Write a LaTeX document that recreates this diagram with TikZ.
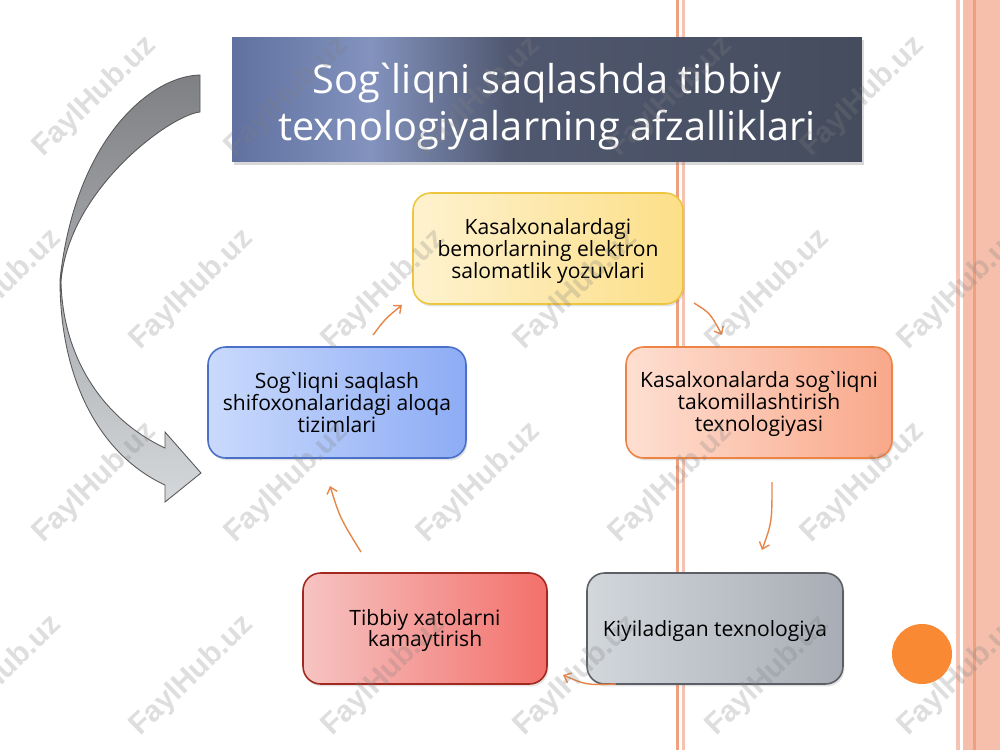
\documentclass[tikz,border=0pt]{standalone}
\usepackage{fontspec}
\newfontfamily\of{Open Sans}
\newfontfamily\wm{Liberation Sans}
\usetikzlibrary{arrows.meta,shadows}
\newcommand\grv{\kern-0.14em`\kern-0.14em}
\definecolor{tA}{HTML}{6070A0}
\definecolor{tB}{HTML}{8393BE}
\definecolor{tC}{HTML}{505870}
\definecolor{tD}{HTML}{454C5D}
\definecolor{stripeO}{HTML}{EFA07F}
\definecolor{stripeP}{HTML}{F6C3B2}
\definecolor{bandP}{HTML}{F5BFAB}
\definecolor{arrowC}{HTML}{E8864A}
\definecolor{circC}{HTML}{F98A33}
\definecolor{yL}{HTML}{FEF2CF}\definecolor{yR}{HTML}{FCDF88}\definecolor{yB}{HTML}{EEC53E}
\definecolor{oL}{HTML}{FEDFD2}\definecolor{oR}{HTML}{F9A88A}\definecolor{oB}{HTML}{EE8444}
\definecolor{gL}{HTML}{D3D7DC}\definecolor{gR}{HTML}{A8ADB5}\definecolor{gB}{HTML}{5C6066}
\definecolor{rL}{HTML}{F6C4C2}\definecolor{rR}{HTML}{F3706B}\definecolor{rB}{HTML}{A2291F}
\definecolor{bL}{HTML}{CADAFC}\definecolor{bR}{HTML}{8DACF5}\definecolor{bB}{HTML}{4A70C8}
\definecolor{arT}{HTML}{7E8084}\definecolor{arB}{HTML}{D5D8DB}
\pgfdeclarehorizontalshading{titleshade}{100bp}{color(0bp)=(tA); color(25bp)=(tA); color(36bp)=(tB); color(47bp)=(tC); color(75bp)=(tD); color(100bp)=(tD)}
\tikzset{
  box/.style={rounded corners=10pt, draw, line width=0.9pt, inner sep=0pt, align=center,
    text=black, minimum height=2.22cm,
    drop shadow={opacity=0.22, shadow xshift=0.8pt, shadow yshift=-1.4pt}},
  boxtext/.style={align=center, inner sep=0pt, text=black, font=\of\fontsize{12}{12.3}\selectfont},
  titlebox/.style={shading=titleshade, inner sep=0pt, minimum width=12.6cm, minimum height=2.5cm,
    drop shadow={opacity=0.3, shadow xshift=1pt, shadow yshift=-1.5pt}},
  titletext/.style={align=center, inner sep=0pt, text=white, font=\of\fontsize{22.6}{26.7}\selectfont},
  conn/.style={draw=arrowC, line width=0.8pt, -{Straight Barb[length=3.5pt,width=6pt]}},
  wmk/.style={rotate=44, font=\wm\bfseries\fontsize{17}{17}\selectfont, text=gray, text opacity=0.26},
}
\begin{document}
\begin{tikzpicture}[x=0.02cm, y=-0.02cm]
\useasboundingbox (0,0) rectangle (1000,750);
\fill[white] (0,0) rectangle (1000,750);
% stripes
\fill[stripeO] (676,0) rectangle (678.5,750);
\fill[stripeP] (681.5,0) rectangle (684.5,750);
\fill[stripeP] (956,0) rectangle (960,750);
\fill[bandP] (963,0) rectangle (1000,750);
\fill[stripeO] (973,0) rectangle (975.5,750);
% big curved arrow
\draw[draw=black!65, line width=0.5pt, top color=arT, bottom color=arB]
  (200,75) .. controls (150,76) and (75,140) .. (60,280)
  .. controls (60,380) and (100,455) .. (165,485)
  -- (165,502) -- (201,473) -- (165,432) -- (165,448)
  .. controls (105,420) and (63,360) .. (61,282)
  .. controls (68,190) and (170,115) .. (200,112) -- cycle;
% title
\node[titlebox] (title) at (547,99.5) {};
\node[titletext] (titletxt) at (547,107) {Sog\grv liqni saqlashda tibbiy\\texnologiyalarning afzalliklari};
% boxes
\node[box, draw=yB, left color=yL, right color=yR, minimum width=5.4cm] (yellow) at (548,248.5) {};
\node[boxtext] (yellowtxt) at (548,251) {Kasalxonalardagi\\bemorlarning elektron\\salomatlik yozuvlari};
\node[box, draw=oB, left color=oL, right color=oR, minimum width=5.32cm] (orange) at (759,402.5) {};
\node[boxtext] (orangetxt) at (759,404) {Kasalxonalarda sog\grv liqni\\takomillashtirish\\texnologiyasi};
\node[box, draw=gB, left color=gL, right color=gR, minimum width=5.12cm] (grey) at (715,628.5) {};
\node[boxtext] (greytxt) at (715,631) {Kiyiladigan texnologiya};
\node[box, draw=rB, left color=rL, right color=rR, minimum width=4.88cm] (red) at (425,628.5) {};
\node[boxtext] (redtxt) at (425,630.5) {Tibbiy xatolarni\\kamaytirish};
\node[box, draw=bB, left color=bL, right color=bR, minimum width=5.16cm] (blue) at (337,402.5) {};
\node[boxtext] (bluetxt) at (337,402.5) {Sog\grv liqni saqlash\\shifoxonalaridagi aloqa\\tizimlari};
% connector end points
\coordinate (a1s) at (373,335); \coordinate (a1e) at (402,305);
\coordinate (a2s) at (694,303); \coordinate (a2e) at (722,335);
\coordinate (a3s) at (772,482); \coordinate (a3e) at (762,550);
\coordinate (a4s) at (616,684); \coordinate (a4e) at (563,675);
\coordinate (a5s) at (361,552); \coordinate (a5e) at (330,486);
\draw[conn] (a1s) .. controls (385,319) .. (a1e);
\draw[conn] (a2s) .. controls (710,313) .. (a2e);
\draw[conn] (a3s) .. controls (772,522) .. (a3e);
\draw[conn] (a4s) .. controls (586,685) .. (a4e);
\draw[conn] (a5s) .. controls (340,518) .. (a5e);
% orange circle
\fill[circC] (922,654) circle[radius=30];
% watermarks
\foreach \x in {95,287,479,671,863} {
  \node[wmk] at (\x,97) {FaylHub.uz};
  \node[wmk] at (\x,483) {FaylHub.uz};
}
\foreach \x in {0,192,384,576,768,960} {
  \node[wmk] at (\x,290) {FaylHub.uz};
  \node[wmk] at (\x,676) {FaylHub.uz};
}
\end{tikzpicture}
\end{document}
